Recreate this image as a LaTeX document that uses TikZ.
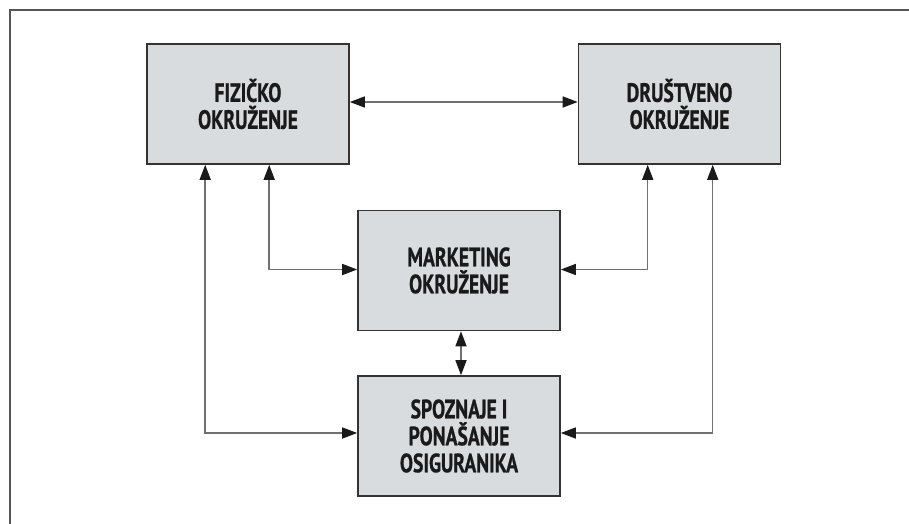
\documentclass[tikz,border=0pt]{standalone}
\usepackage{fontspec}
\newfontfamily\boxfont{PT Sans}[FakeStretch=0.74,FakeBold=0.8]
\usetikzlibrary{arrows.meta}
\definecolor{boxfill}{HTML}{D9DCDE}
\definecolor{boxline}{HTML}{333333}
\definecolor{conline}{HTML}{707070}
\definecolor{tipcol}{HTML}{1A1A1A}
\definecolor{framecol}{HTML}{555555}
\tikzset{
  blok/.style={draw=boxline, line width=1.6pt, fill=boxfill, minimum width=202pt, minimum height=120pt,
    inner sep=0pt, align=center, text=tipcol, font=\boxfont\bfseries\fontsize{26.5}{27}\selectfont},
  veza/.style={draw=conline, line width=1.5pt, {Triangle[length=15pt,width=11pt,color=tipcol,fill=tipcol]}-{Triangle[length=15pt,width=11pt,color=tipcol,fill=tipcol]}},
  okvir/.style={draw=framecol, line width=1.6pt}
}
\begin{document}
\begin{tikzpicture}[x=1pt,y=-1pt]
\useasboundingbox (0,0) rectangle (909,524);
\draw[okvir] (10,524) -- (10,10) -- (909,10);
\node[blok] (fiz) at (248,104) {FIZIČKO\\OKRUŽENJE};
\node[blok] (dru) at (679.5,104) {DRUŠTVENO\\OKRUŽENJE};
\node[blok] (mkt) at (459,270.5) {MARKETING\\OKRUŽENJE};
\node[blok] (spo) at (459,436) {SPOZNAJE I\\PONAŠANJE\\OSIGURANIKA};
\draw[veza] ([yshift=2pt]fiz.east) -- ([yshift=2pt]dru.west);
\draw[veza] ([xshift=59pt]fiz.south west) |- ([yshift=3pt]spo.west);
\draw[veza] ([xshift=123pt]fiz.south west) |- ([yshift=1pt]mkt.west);
\draw[veza] ([xshift=70pt]dru.south west) |- ([yshift=1pt]mkt.east);
\draw[veza] ([xshift=135pt]dru.south west) |- ([yshift=3pt]spo.east);
\draw[veza] ([xshift=2pt]mkt.south) -- ([xshift=2pt]spo.north);
\end{tikzpicture}
\end{document}
